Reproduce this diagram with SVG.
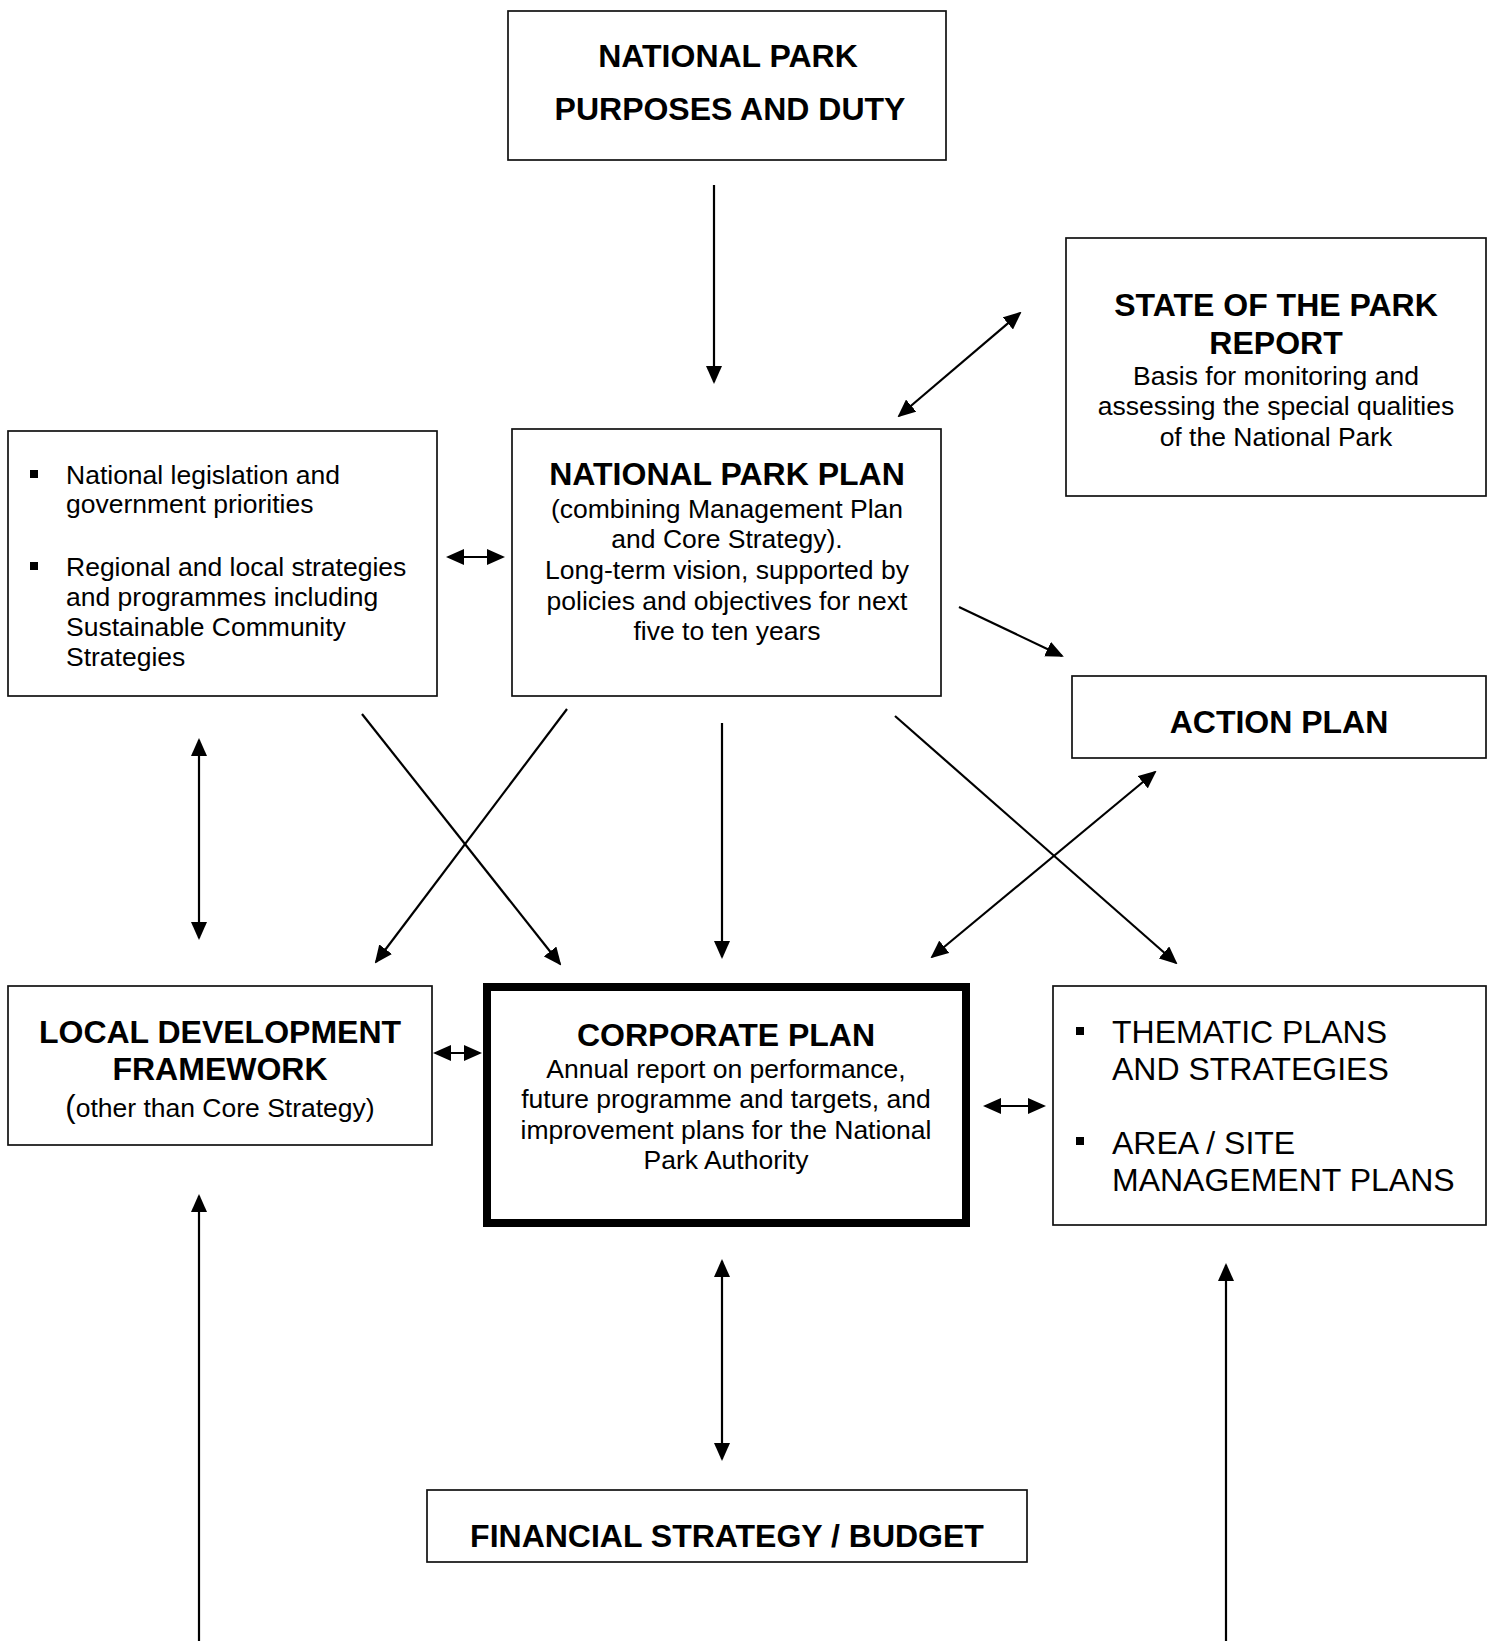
<svg xmlns="http://www.w3.org/2000/svg" width="1491" height="1641" viewBox="0 0 1491 1641">
  <style>
    .box { fill: #fff; stroke: #111; stroke-width: 1.7; }
    .thick { fill: #fff; stroke: #000; stroke-width: 8; }
    .t { font-family: "Liberation Sans", Arial, sans-serif; fill: #000; }
    .b { font-weight: bold; font-size: 32px; }
    .r { font-size: 26.5px; }
    .big { font-size: 32px; }
    .c { text-anchor: middle; }
    .con line { stroke: #000; stroke-width: 2.2; fill: none; }
    .bul { fill: #000; }
  </style>
  <defs>
    <marker id="ah" markerUnits="userSpaceOnUse" viewBox="0 0 18 16" markerWidth="18" markerHeight="16" refX="16" refY="8" orient="auto-start-reverse">
      <path d="M0,0 L18,8 L0,16 Z" fill="#000"/>
    </marker>
  </defs>
  <rect width="1491" height="1641" fill="#fff"/>

  <g id="purposes">
    <rect class="box" x="508" y="11" width="438" height="149"/>
    <text class="t b c" x="728" y="67">NATIONAL PARK</text>
    <text class="t b c" x="730" y="120">PURPOSES AND DUTY</text>
  </g>

  <g id="state-report">
    <rect class="box" x="1066" y="238" width="420" height="258"/>
    <text class="t b c" x="1276" y="316">STATE OF THE PARK</text>
    <text class="t b c" x="1276" y="354">REPORT</text>
    <text class="t r c" x="1276" y="385">Basis for monitoring and</text>
    <text class="t r c" x="1276" y="415">assessing the special qualities</text>
    <text class="t r c" x="1276" y="446">of the National Park</text>
  </g>

  <g id="legislation">
    <rect class="box" x="8" y="431" width="429" height="265"/>
    <rect class="bul" x="30" y="470" width="8" height="8"/>
    <rect class="bul" x="30" y="562" width="8" height="8"/>
    <text class="t r" x="66" y="484">National legislation and</text>
    <text class="t r" x="66" y="513">government priorities</text>
    <text class="t r" x="66" y="576">Regional and local strategies</text>
    <text class="t r" x="66" y="606">and programmes including</text>
    <text class="t r" x="66" y="636">Sustainable Community</text>
    <text class="t r" x="66" y="666">Strategies</text>
  </g>

  <g id="national-park-plan">
    <rect class="box" x="512" y="429" width="429" height="267"/>
    <text class="t b c" x="727" y="485">NATIONAL PARK PLAN</text>
    <text class="t r c" x="727" y="518">(combining Management Plan</text>
    <text class="t r c" x="727" y="548">and Core Strategy).</text>
    <text class="t r c" x="727" y="579">Long-term vision, supported by</text>
    <text class="t r c" x="727" y="610">policies and objectives for next</text>
    <text class="t r c" x="727" y="640">five to ten years</text>
  </g>

  <g id="action-plan">
    <rect class="box" x="1072" y="676" width="414" height="82"/>
    <text class="t b c" x="1279" y="733">ACTION PLAN</text>
  </g>

  <g id="ldf">
    <rect class="box" x="8" y="986" width="424" height="159"/>
    <text class="t b c" x="220" y="1043">LOCAL DEVELOPMENT</text>
    <text class="t b c" x="220" y="1080">FRAMEWORK</text>
    <text class="t r c" x="220" y="1117"><tspan font-size="31">(</tspan>other than Core Strategy)</text>
  </g>

  <g id="corporate-plan">
    <rect class="thick" x="487" y="987" width="479" height="236"/>
    <text class="t b c" x="726" y="1046">CORPORATE PLAN</text>
    <text class="t r c" x="726" y="1078">Annual report on performance,</text>
    <text class="t r c" x="726" y="1108">future programme and targets, and</text>
    <text class="t r c" x="726" y="1139">improvement plans for the National</text>
    <text class="t r c" x="726" y="1169">Park Authority</text>
  </g>

  <g id="thematic-plans">
    <rect class="box" x="1053" y="986" width="433" height="239"/>
    <rect class="bul" x="1076" y="1027" width="8" height="8"/>
    <rect class="bul" x="1076" y="1137" width="8" height="8"/>
    <text class="t big" x="1112" y="1043">THEMATIC PLANS</text>
    <text class="t big" x="1112" y="1080">AND STRATEGIES</text>
    <text class="t big" x="1112" y="1154">AREA / SITE</text>
    <text class="t big" x="1112" y="1191">MANAGEMENT PLANS</text>
  </g>

  <g id="financial">
    <rect class="box" x="427" y="1490" width="600" height="72"/>
    <text class="t b c" x="727" y="1547">FINANCIAL STRATEGY / BUDGET</text>
  </g>

  <g id="connectors" class="con">
    <line x1="714" y1="185" x2="714" y2="382" marker-end="url(#ah)"/>
    <line x1="899" y1="416" x2="1020" y2="313" marker-start="url(#ah)" marker-end="url(#ah)"/>
    <line x1="448" y1="557" x2="503" y2="557" marker-start="url(#ah)" marker-end="url(#ah)"/>
    <line x1="959" y1="607" x2="1062" y2="656" marker-end="url(#ah)"/>
    <line x1="199" y1="740" x2="199" y2="938" marker-start="url(#ah)" marker-end="url(#ah)"/>
    <line x1="362" y1="714" x2="560" y2="964" marker-end="url(#ah)"/>
    <line x1="567" y1="709" x2="376" y2="962" marker-end="url(#ah)"/>
    <line x1="722" y1="723" x2="722" y2="957" marker-end="url(#ah)"/>
    <line x1="895" y1="716" x2="1176" y2="963" marker-end="url(#ah)"/>
    <line x1="932" y1="957" x2="1155" y2="772" marker-start="url(#ah)" marker-end="url(#ah)"/>
    <line x1="435" y1="1053" x2="480" y2="1053" marker-start="url(#ah)" marker-end="url(#ah)"/>
    <line x1="985" y1="1106" x2="1044" y2="1106" marker-start="url(#ah)" marker-end="url(#ah)"/>
    <line x1="722" y1="1261" x2="722" y2="1459" marker-start="url(#ah)" marker-end="url(#ah)"/>
    <line x1="199" y1="1641" x2="199" y2="1196" marker-end="url(#ah)"/>
    <line x1="1226" y1="1641" x2="1226" y2="1265" marker-end="url(#ah)"/>
  </g>
</svg>
